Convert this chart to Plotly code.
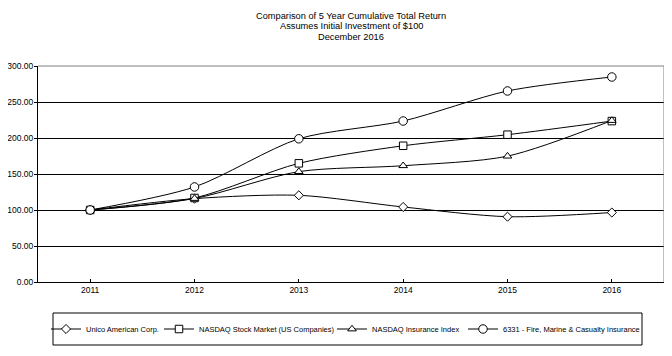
import plotly.graph_objects as go

years = ["2011", "2012", "2013", "2014", "2015", "2016"]
unico = [100.0, 115.8, 120.4, 104.2, 90.7, 96.5]
nasdaq_market = [100.0, 116.7, 164.8, 189.2, 204.6, 223.5]
nasdaq_insurance = [100.0, 116.0, 153.3, 161.5, 174.8, 224.3]
fire_marine = [100.0, 132.0, 198.9, 223.6, 265.3, 284.7]

series_names = [
    "Unico American Corp.",
    "NASDAQ Stock Market (US Companies)",
    "NASDAQ Insurance Index",
    "6331 - Fire, Marine & Casualty Insurance",
]
series_values = [unico, nasdaq_market, nasdaq_insurance, fire_marine]
symbols = ["diamond", "square", "triangle-up", "circle"]
sizes = [7, 7.5, 7.5, 8.5]
legend_widths = [68, 128, 86, 136]

title_lines = [
    "Comparison of 5 Year Cumulative Total Return",
    "Assumes Initial Investment of $100",
    "December 2016",
]

y_ticks = [0, 50, 100, 150, 200, 250, 300]

FONT = "Liberation Sans, Arial, sans-serif"

W, H = 672, 356
OFF = 8  # page offset of the figure inside the browser body

# target page-pixel positions of the plot area
PL, PR, PT, PB = 38, 664, 66, 282
L = PL - OFF
R = W - (PR - OFF)
T = PT - OFF
B = H - (PB - OFF)
pw, ph = W - L - R, H - T - B

def px_to_paper_x(px):
    return (px - OFF - L) / pw

def px_to_paper_y(py):
    return (H - B - (py - OFF)) / ph

fig = go.Figure()
for name, vals, sym, sz, lw in zip(series_names, series_values, symbols, sizes, legend_widths):
    fig.add_trace(go.Scatter(
        x=years, y=vals, name=name, mode="lines+markers",
        legendwidth=lw,
        line=dict(color="black", width=1, shape="spline", smoothing=0.8),
        marker=dict(symbol=sym, size=sz, color="white",
                    line=dict(color="black", width=1)),
    ))

title_y_px = [16, 26.5, 37]
annotations = [
    dict(text=t, xref="paper", yref="paper", x=0.5, y=px_to_paper_y(py),
         xanchor="center", yanchor="middle", showarrow=False,
         font=dict(family=FONT, size=9.25, color="black"))
    for t, py in zip(title_lines, title_y_px)
]

fig.update_layout(
    width=W, height=H,
    margin=dict(l=L, r=R, t=T, b=B, autoexpand=False),
    paper_bgcolor="white", plot_bgcolor="white",
    font=dict(family=FONT, size=10, color="black"),
    annotations=annotations,
    showlegend=True,
    legend=dict(
        orientation="h", xref="container", yref="container",
        x=(345 - OFF) / W, xanchor="center",
        y=1 - (329 - OFF) / H, yanchor="middle",
        font=dict(family=FONT, size=7.5, color="black"),
        bgcolor="rgba(0,0,0,0)", borderwidth=0,
        itemwidth=30,
    ),
    xaxis=dict(
        type="category", range=[-0.5, 5.5],
        showline=True, linecolor="black", linewidth=1,
        ticks="inside", ticklen=3, tickcolor="black",
        showgrid=False, zeroline=False,
        tickfont=dict(family=FONT, size=8.5),
    ),
    yaxis=dict(
        range=[0, 300], tickvals=y_ticks, tickformat=".2f",
        showline=True, linecolor="black", linewidth=1,
        ticks="outside", ticklen=3, tickcolor="black",
        showgrid=True, gridcolor="black", gridwidth=1,
        zeroline=False, ticklabelstandoff=-1,
        tickfont=dict(family=FONT, size=8.5),
    ),
    shapes=[
        dict(type="line", xref="paper", yref="paper", x0=0, x1=1, y0=1, y1=1,
             line=dict(color="#808080", width=1), layer="above"),
        dict(type="line", xref="paper", yref="paper", x0=1, x1=1, y0=0, y1=1,
             line=dict(color="#808080", width=1), layer="above"),
        dict(type="rect", xref="paper", yref="paper",
             x0=px_to_paper_x(53), x1=px_to_paper_x(642),
             y0=px_to_paper_y(345), y1=px_to_paper_y(313),
             line=dict(color="black", width=1), fillcolor="rgba(0,0,0,0)"),
    ],
)

fig.write_html("out.html")
